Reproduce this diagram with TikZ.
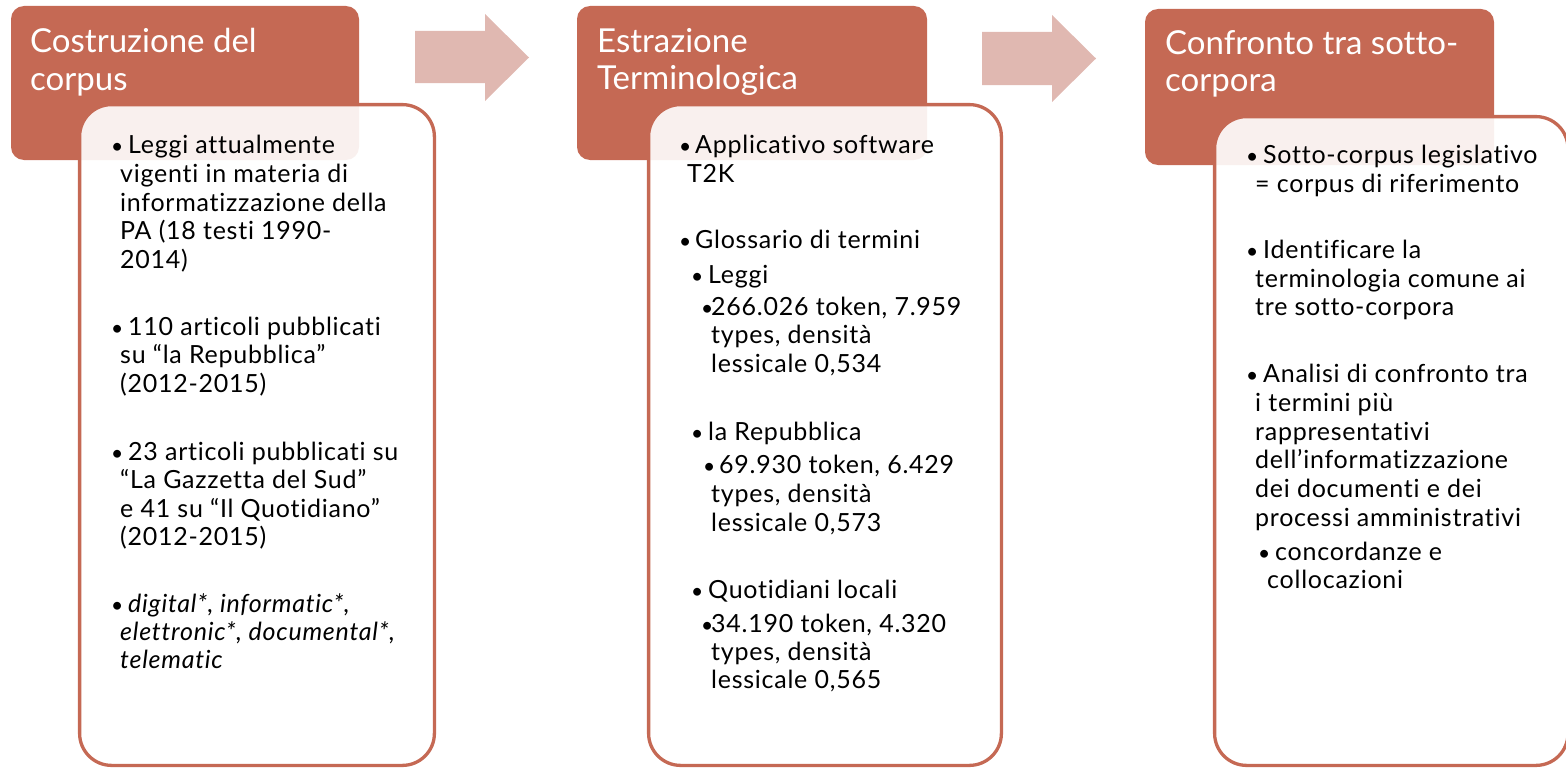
\documentclass[tikz,border=0pt]{standalone}
\usepackage{fontspec}
\setmainfont{Lato}[Ligatures=NoCommon]
\newfontfamily\bodyfont{Lato}[LetterSpace=3, Ligatures=NoCommon]
\definecolor{accent}{RGB}{197,105,84}
\definecolor{arrowc}{RGB}{224,184,177}
\tikzset{
  hdr/.style={fill=accent, rounded corners=13pt},
  card/.style={draw=accent, line width=3.3pt, fill=white, fill opacity=0.9, rounded corners=32pt},
  blockarrow/.style={fill=arrowc},
  htxt/.style={anchor=base west, inner sep=0pt, text=white, font=\fontsize{33}{39}\selectfont},
  btxt/.style={anchor=base west, inner sep=0pt, text=black, font=\bodyfont\fontsize{25}{29}\selectfont},
  bul/.style={anchor=base west, inner sep=0pt, text=black, font=\fontsize{21}{29}\selectfont},
}
\begin{document}
\begin{tikzpicture}[x=1pt,y=-1pt]
\useasboundingbox (0,0) rectangle (1566,768);
% headers
\path[hdr] (11,6) rectangle (359,160);
\path[hdr] (577,6) rectangle (927,160);
\path[hdr] (1145,9) rectangle (1494,165);
% arrows
\path[blockarrow] (415,31) -- (485,31) -- (485,14) -- (529,57.5) -- (485,101) -- (485,83) -- (415,83) -- cycle;
\path[blockarrow] (982,32) -- (1052,32) -- (1052,15) -- (1096,58.5) -- (1052,102) -- (1052,85) -- (982,85) -- cycle;
% cards
\path[card] (79.6,104.6) rectangle (434.4,765.4);
\path[card] (648.6,104.6) rectangle (1001.4,765.4);
\path[card] (1214.6,116.6) rectangle (1568,765.4);
% header texts
\node[htxt] (h1a) at (30,53) {Costruzione del};
\node[htxt] (h1b) at (30,90) {corpus};
\node[htxt] (h2a) at (597,53) {Estrazione};
\node[htxt] (h2b) at (597,89) {Terminologica};
\node[htxt] (h3a) at (1165,55) {Confronto tra sotto-};
\node[htxt] (h3b) at (1165,92) {corpora};
% column 1
\node[bul] (c1b1) at (111,153) {•};
\node[btxt] (c1l1) at (128,153) {Leggi attualmente};
\node[btxt] (c1l2) at (120,182) {vigenti in materia di};
\node[btxt] (c1l3) at (120,211) {informatizzazione della};
\node[btxt] (c1l4) at (120,239) {PA (18 testi 1990-};
\node[btxt] (c1l5) at (120,268) {2014)};
\node[bul] (c1b2) at (111,335) {•};
\node[btxt] (c1l6) at (128,335) {110 articoli pubblicati};
\node[btxt] (c1l7) at (120,363) {su “la Repubblica”};
\node[btxt] (c1l8) at (120,392) {(2012-2015)};
\node[bul] (c1b3) at (111,460) {•};
\node[btxt] (c1l9) at (128,460) {23 articoli pubblicati su};
\node[btxt] (c1l10) at (120,488) {“La Gazzetta del Sud”};
\node[btxt] (c1l11) at (120,517) {e 41 su “Il Quotidiano”};
\node[btxt] (c1l12) at (120,545) {(2012-2015)};
\node[bul] (c1b4) at (111,612) {•};
\node[btxt] (c1l13) at (128,612) {\itshape digital*, informatic*,};
\node[btxt] (c1l14) at (120,640) {\itshape elettronic*, documental*,};
\node[btxt] (c1l15) at (120,668) {\itshape telematic};
% column 2
\node[bul] (c2b1) at (679,153) {•};
\node[btxt] (c2l1) at (695,153) {Applicativo software};
\node[btxt] (c2l2) at (687,182) {T2K};
\node[bul] (c2b2) at (679,248) {•};
\node[btxt] (c2l3) at (695,248) {Glossario di termini};
\node[bul] (c2b3) at (691,283) {•};
\node[btxt] (c2l4) at (708,283) {Leggi};
\node[bul] (c2b4) at (701,315) {•};
\node[btxt] (c2l5) at (711,315) {266.026 token, 7.959};
\node[btxt] (c2l6) at (711,343) {types, densità};
\node[btxt] (c2l7) at (711,372) {lessicale 0,534};
\node[bul] (c2b5) at (691,440) {•};
\node[btxt] (c2l8) at (708,440) {la Repubblica};
\node[bul] (c2b6) at (703,473) {•};
\node[btxt] (c2l9) at (719,473) {69.930 token, 6.429};
\node[btxt] (c2l10) at (711,502) {types, densità};
\node[btxt] (c2l11) at (711,531) {lessicale 0,573};
\node[bul] (c2b7) at (691,598) {•};
\node[btxt] (c2l12) at (708,598) {Quotidiani locali};
\node[bul] (c2b8) at (701,632) {•};
\node[btxt] (c2l13) at (711,632) {34.190 token, 4.320};
\node[btxt] (c2l14) at (711,660) {types, densità};
\node[btxt] (c2l15) at (711,688) {lessicale 0,565};
% column 3
\node[bul] (c3b1) at (1246,163) {•};
\node[btxt] (c3l1) at (1263,163) {Sotto-corpus legislativo};
\node[btxt] (c3l2) at (1255,192) {= corpus di riferimento};
\node[bul] (c3b2) at (1246,258) {•};
\node[btxt] (c3l3) at (1263,258) {Identificare la};
\node[btxt] (c3l4) at (1255,287) {terminologia comune ai};
\node[btxt] (c3l5) at (1255,315) {tre sotto-corpora};
\node[bul] (c3b3) at (1246,382) {•};
\node[btxt] (c3l6) at (1263,382) {Analisi di confronto tra};
\node[btxt] (c3l7) at (1255,411) {i termini più};
\node[btxt] (c3l8) at (1255,440) {rappresentativi};
\node[btxt] (c3l9) at (1255,468) {dell’informatizzazione};
\node[btxt] (c3l10) at (1255,497) {dei documenti e dei};
\node[btxt] (c3l11) at (1255,526) {processi amministrativi};
\node[bul] (c3b4) at (1258,560) {•};
\node[btxt] (c3l12) at (1275,560) {concordanze e};
\node[btxt] (c3l13) at (1267,588) {collocazioni};
\end{tikzpicture}
\end{document}
